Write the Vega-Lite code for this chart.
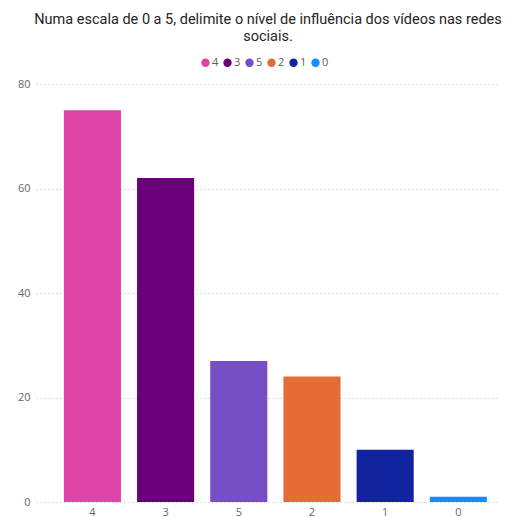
{
  "$schema": "https://vega.github.io/schema/vega-lite/v6.json",
  "autosize": {"type": "none"},
  "padding": {"left": 36, "top": 84, "right": 7, "bottom": 15},
  "width": 464,
  "height": 418,
  "background": "white",
  "title": {
    "text": ["Numa escala de 0 a 5, delimite o nível de influência dos vídeos nas redes", "sociais."],
    "anchor": "middle",
    "frame": "group",
    "font": "Roboto",
    "fontSize": 14.5,
    "fontWeight": "normal",
    "color": "#252423",
    "lineHeight": 17,
    "offset": 13
  },
  "data": {
    "values": [
      {"nivel": "4", "contagem": 75},
      {"nivel": "3", "contagem": 62},
      {"nivel": "5", "contagem": 27},
      {"nivel": "2", "contagem": 24},
      {"nivel": "1", "contagem": 10},
      {"nivel": "0", "contagem": 1}
    ]
  },
  "mark": {"type": "bar"},
  "encoding": {
    "x": {
      "field": "nivel",
      "type": "nominal",
      "sort": ["4", "3", "5", "2", "1", "0"],
      "scale": {"paddingInner": 0.22, "paddingOuter": 0.28, "align": 0.68},
      "axis": {
        "title": null,
        "labelAngle": 0,
        "domain": false,
        "ticks": false,
        "labelColor": "#666666",
        "labelFont": "Open Sans",
        "labelFontSize": 11,
        "labelPadding": 4
      }
    },
    "y": {
      "field": "contagem",
      "type": "quantitative",
      "scale": {"domain": [0, 80]},
      "axis": {
        "title": null,
        "values": [0, 20, 40, 60, 80],
        "domain": false,
        "ticks": false,
        "grid": true,
        "gridDash": [1, 3],
        "gridColor": "#BBBBBB",
        "labelColor": "#666666",
        "labelFont": "Open Sans",
        "labelFontSize": 11,
        "labelPadding": 6
      }
    },
    "color": {
      "field": "nivel",
      "type": "nominal",
      "sort": ["4", "3", "5", "2", "1", "0"],
      "scale": {
        "domain": ["4", "3", "5", "2", "1", "0"],
        "range": ["#E044A7", "#6B007B", "#744EC2", "#E66C37", "#12239E", "#118DFF"]
      },
      "legend": {
        "title": null,
        "orient": "none",
        "direction": "horizontal",
        "legendX": 164,
        "legendY": -27,
        "symbolType": "circle",
        "symbolSize": 70,
        "symbolStrokeWidth": 0,
        "labelOffset": 1,
        "columnPadding": 3,
        "labelFont": "Open Sans",
        "labelFontSize": 11,
        "labelColor": "#605E5C"
      }
    }
  },
  "config": {"view": {"stroke": null}}
}
